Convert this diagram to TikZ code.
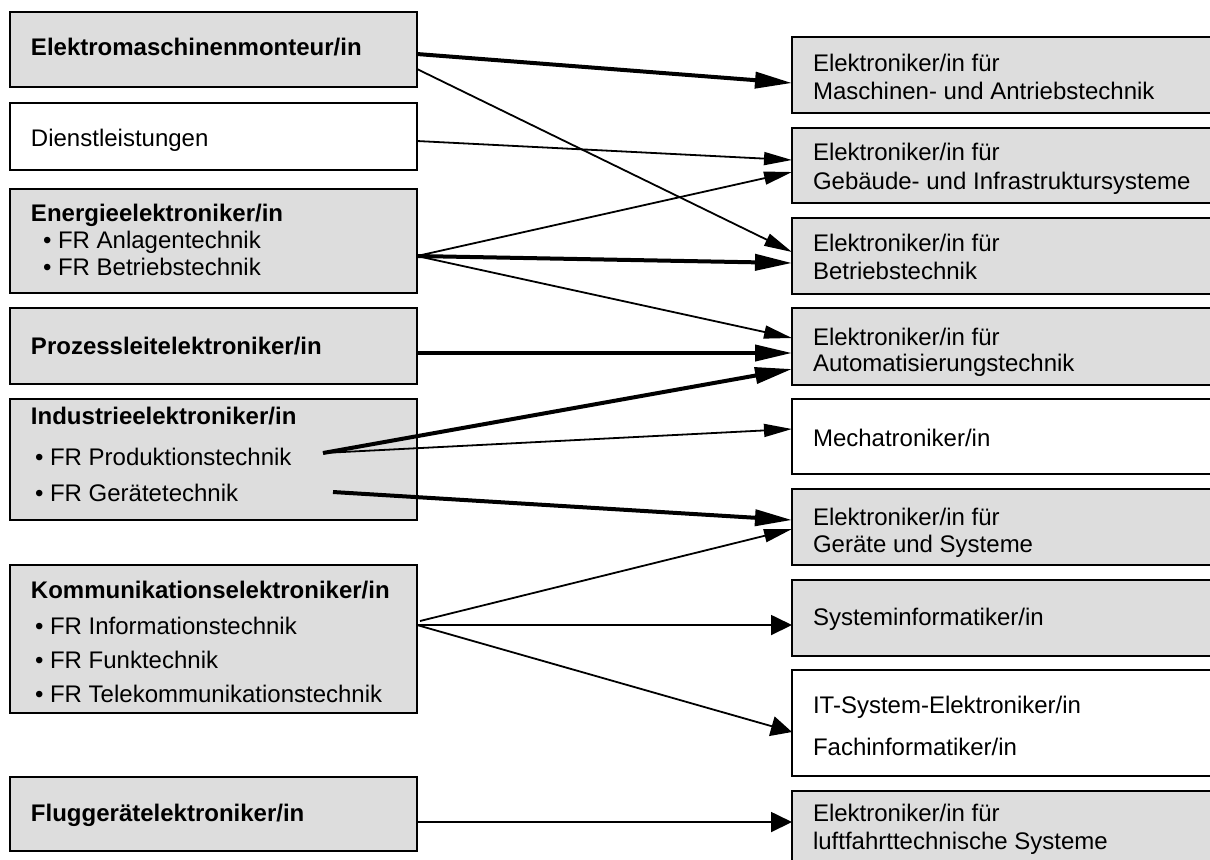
\documentclass[tikz,border=0pt]{standalone}
\usepackage{fontspec}
\setmainfont{Liberation Sans}
\usetikzlibrary{arrows.meta,calc}
\definecolor{boxgray}{RGB}{221,221,221}
\begin{document}
\begin{tikzpicture}[x=0.5pt,y=-0.5pt,
  box/.style={draw=black, line width=1pt, fill=boxgray, anchor=north west, inner sep=0pt, outer sep=0pt},
  lbox/.style={box, minimum width=203.5pt},
  rbox/.style={box, minimum width=214pt},
  txt/.style={anchor=north west, inner sep=0pt, outer sep=0pt, align=left, font=\fontsize{12}{#1}\selectfont},
  txt/.default=14pt,
  thk/.style={line width=2pt, -{Triangle[length=18.5pt,width=8pt]}},
  thn/.style={line width=0.9pt, -{Triangle[length=14pt,width=6.5pt]}},
  stb/.style={line width=0.9pt, -{Triangle[length=10.5pt,width=10pt]}},
]
\useasboundingbox (0,0) rectangle (1210,859);
\clip (0,0) rectangle (1210,859);
\fill[white] (0,0) rectangle (1210,859);

% left boxes
\node[lbox, minimum height=37.5pt] (L1) at (10,12) {};
\node[lbox, minimum height=33.5pt, fill=white] (L2) at (10,103) {};
\node[lbox, minimum height=52pt] (L3) at (10,189) {};
\node[lbox, minimum height=38pt] (L4) at (10,308) {};
\node[lbox, minimum height=60.5pt] (L5) at (10,399) {};
\node[lbox, minimum height=74pt] (L6) at (10,565) {};
\node[lbox, minimum height=37pt] (L7) at (10,777) {};

% right boxes
\node[rbox, minimum height=38pt] (R1) at (792,37) {};
\node[rbox, minimum height=37.5pt] (R2) at (792,128) {};
\node[rbox, minimum height=38pt] (R3) at (792,218) {};
\node[rbox, minimum height=38.5pt] (R4) at (792,308) {};
\node[rbox, minimum height=37.5pt, fill=white] (R5) at (792,399) {};
\node[rbox, minimum height=38pt] (R6) at (792,489) {};
\node[rbox, minimum height=38pt] (R7) at (792,580) {};
\node[rbox, minimum height=53pt, fill=white] (R8) at (792,670) {};
\node[rbox, minimum height=40pt] (R9) at (792,791) {};

% left texts
\node[txt] (tL1) at (31,36) {\textbf{Elektromaschinenmonteur/in}\strut};
\node[txt] (tL2) at (31,127) {Dienstleistungen\strut};
\node[txt=13.5pt] (tL3) at (31,202.7) {\textbf{Energieelektroniker/in}\strut\\\hspace*{6pt}• FR Anlagentechnik\strut\\\hspace*{6pt}• FR Betriebstechnik\strut};
\node[txt] (tL4) at (31,335) {\textbf{Prozessleitelektroniker/in}\strut};
\node[txt=18pt] (tL5) at (31,399.4) {\textbf{Industrieelektroniker/in}\strut\\[2.5pt]\hspace*{2pt}• FR Produktionstechnik\strut\\\hspace*{2pt}• FR Gerätetechnik\strut};
\node[txt=17pt] (tL6) at (31,574.8) {\textbf{Kommunikationselektroniker/in}\strut\\[1pt]\hspace*{2pt}• FR Informationstechnik\strut\\\hspace*{2pt}• FR Funktechnik\strut\\\hspace*{2pt}• FR Telekommunikationstechnik\strut};
\node[txt] (tL7) at (31,802) {\textbf{Fluggerätelektroniker/in}\strut};

% right texts
\node[txt] (tR1) at (813,52) {Elektroniker/in für\strut\\Maschinen- und Antriebstechnik\strut};
\node[txt=14.5pt] (tR2) at (813,140.3) {Elektroniker/in für\strut\\Gebäude- und Infrastruktursysteme\strut};
\node[txt] (tR3) at (813,232) {Elektroniker/in für\strut\\Betriebstechnik\strut};
\node[txt=13pt] (tR4) at (813,327.4) {Elektroniker/in für\strut\\Automatisierungstechnik\strut};
\node[txt] (tR5) at (813,427) {Mechatroniker/in\strut};
\node[txt=13.5pt] (tR6) at (813,506.7) {Elektroniker/in für\strut\\Geräte und Systeme\strut};
\node[txt] (tR7) at (813,606) {Systeminformatiker/in\strut};
\node[txt=21pt] (tR8) at (813,684.2) {IT-System-Elektroniker/in\strut\\Fachinformatiker/in\strut};
\node[txt] (tR9) at (813,802) {Elektroniker/in für\strut\\luftfahrttechnische Systeme\strut};

% connectors
\draw[thk] ($(L1.north east)+(0,42)$) -- ($(R1.north west)+(0,46)$);
\draw[thn] ($(L1.north east)+(0,57)$) -- ($(R3.north west)+(0,34)$);
\draw[thn] ($(L2.north east)+(0,38)$) -- ($(R2.north west)+(0,32)$);
\draw[thn] ($(L3.north east)+(0,67)$) -- ($(R2.north west)+(0,44)$);
\draw[thk] ($(L3.north east)+(0,67)$) -- ($(R3.north west)+(0,45)$);
\draw[thn] ($(L3.north east)+(0,67)$) -- ($(R4.north west)+(0,30)$);
\draw[thk] ($(L4.north east)+(0,45)$) -- ($(R4.north west)+(0,45)$);
\draw[thk] ($(L5.north west)+(313,54)$) -- ($(R4.north west)+(0,61)$);
\draw[thn] ($(L5.north west)+(313,54)$) -- ($(R5.north west)+(0,30)$);
\draw[thk] ($(L5.north west)+(323,93)$) -- ($(R6.north west)+(0,31)$);
\draw[thn] ($(L6.north east)+(3,56)$) -- ($(R6.north west)+(0,40)$);
\draw[stb] ($(L6.north east)+(0,60)$) -- ($(R7.north west)+(0,45)$);
\draw[stb] ($(L6.north east)+(0,60)$) -- ($(R8.north west)+(0,62)$);
\draw[stb] ($(L7.north east)+(0,45)$) -- ($(R9.north west)+(0,31)$);
\end{tikzpicture}
\end{document}
